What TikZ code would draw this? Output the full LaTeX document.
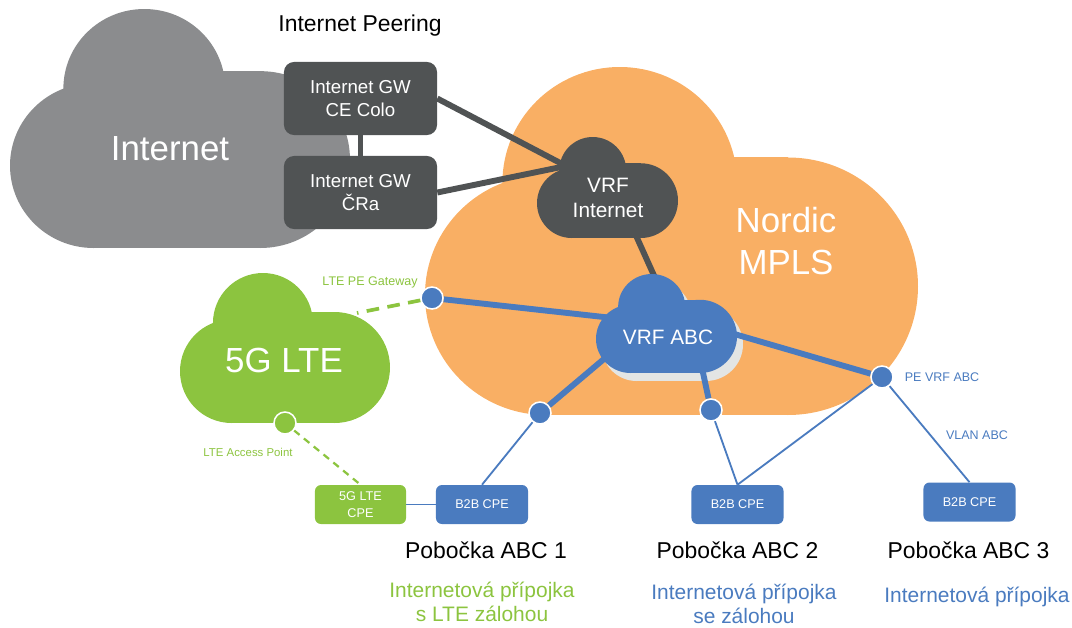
\documentclass[tikz,border=0pt]{standalone}
\usepackage{fontspec}
\setmainfont{Liberation Sans}
\usetikzlibrary{positioning}

\definecolor{inetgrey}{HTML}{8B8C8E}
\definecolor{gwdark}{HTML}{505354}
\definecolor{mplsorange}{HTML}{F9AF64}
\definecolor{vrfblue}{HTML}{4A7BBF}
\definecolor{ltegreen}{HTML}{8CC43F}
\definecolor{cloudshade}{HTML}{E3E5E4}

\pgfdeclarelayer{bg}
\pgfdeclarelayer{links}
\pgfsetlayers{bg,links,main}

% cloud: left x, top y, width, height, colour
\newcommand{\netcloud}[5]{%
	\begin{scope}[shift={(#1,#2)},xscale=#3,yscale=#4]
		\fill[#5] (0.246,0.655) ellipse [x radius=0.246, y radius=0.345];
		\fill[#5] (0.395,0.333) ellipse [x radius=0.238, y radius=0.333];
		\fill[#5] (0.736,0.630) ellipse [x radius=0.264, y radius=0.370];
		\fill[#5] (0.246,0.40) rectangle (0.736,1);
		\fill[#5] (0.395,0.26) rectangle (0.736,1);
	\end{scope}}

\begin{document}
\begin{tikzpicture}[x=0.025cm, y=-0.025cm,
		gwbox/.style={fill=gwdark, rounded corners=0.25cm, text=white, align=center,
			minimum width=3.825cm, minimum height=1.825cm, inner sep=0,
			font=\fontsize{13.3}{16.3}\selectfont},
		cpebox/.style={fill=vrfblue, rounded corners=0.15cm, text=white, align=center,
			minimum width=2.3cm, minimum height=0.975cm, inner sep=0,
			font=\fontsize{9}{12}\selectfont},
		pedot/.style={circle, fill=vrfblue, draw=white, line width=1.1pt,
			minimum size=0.55cm, inner sep=0},
		big/.style={text=white, align=center, inner sep=0, font=\fontsize{24.8}{29.8}\selectfont},
		vrf/.style={text=white, align=center, inner sep=0, font=\fontsize{14.8}{17.7}\selectfont},
		small/.style={inner sep=0, font=\fontsize{8.9}{10}\selectfont},
		branch/.style={inner sep=0, anchor=base, font=\fontsize{16.3}{19}\selectfont},
		uplink/.style={inner sep=0, align=center, font=\fontsize{14.9}{17.4}\selectfont},
		trunk/.style={line width=4.2pt},
		drop/.style={draw=vrfblue, line width=1.3pt},
		ltedash/.style={draw=ltegreen, line width=2.6pt, dash pattern=on 9pt off 6pt},
		ltedashthin/.style={draw=ltegreen, line width=1.6pt, dash pattern=on 5pt off 4pt}]

	\useasboundingbox (0,0) rectangle (1072,627);

	\begin{pgfonlayer}{bg}
		\netcloud{10}{9}{340}{239}{inetgrey}
		\netcloud{425}{67}{493}{348}{mplsorange}
		\netcloud{180}{273}{210}{150}{ltegreen}
		\netcloud{602}{282}{141}{99}{cloudshade}
	\end{pgfonlayer}
	\netcloud{537}{137}{141}{101}{gwdark}
	\netcloud{596}{274}{141}{99}{vrfblue}

	\coordinate (vrfinet-w) at (566,166);
	\coordinate (vrfinet-s) at (620,200);
	\coordinate (vrfabc-n) at (665,300);
	\coordinate (vrfabc-w) at (640,321);
	\coordinate (vrfabc-sw) at (630,337);
	\coordinate (vrfabc-s) at (696,340);
	\coordinate (vrfabc-e) at (700,324);
	\coordinate (ltecloud-ne) at (357,313);

	\node[inner sep=0, anchor=base, font=\fontsize{16.3}{19}\selectfont] (peering) at (360,31) {Internet Peering};
	\node[big] (inet) at (170,149) {Internet};
	\node[big] (mpls) at (786,241) {Nordic\\MPLS};
	\node[big] (lte) at (284,360) {5G LTE};
	\node[vrf] (vrfinet) at (608,198) {VRF\\Internet};
	\node[vrf] (vrfabc) at (668,337) {VRF ABC};

	\node[gwbox] (gwcolo) at (360.5,98.5) {Internet GW\\CE Colo};
	\node[gwbox] (gwcra) at (360.5,192.5) {Internet GW\\ČRa};

	\node[pedot] (ltegw) at (432,298) {};
	\node[pedot] (br1) at (540,413) {};
	\node[pedot] (br2) at (711,410) {};
	\node[pedot] (pe) at (882,377) {};
	\node[pedot, fill=ltegreen] (lteap) at (285,423) {};

	\node[small, text=ltegreen] (ltegwlbl) at (370,282) {LTE PE Gateway};
	\node[small, text=ltegreen, font=\fontsize{8.1}{10}\selectfont] (lteaplbl) at (248,452) {LTE Access Point};
	\node[small, text=vrfblue, right=0.27cm of pe] (pelbl) {PE VRF ABC};
	\node[small, text=vrfblue] (vlan) at (977,435) {VLAN ABC};

	\node[cpebox, fill=ltegreen, minimum width=2.275cm] (ltecpe) at (360.5,504.5) {5G LTE\\CPE};
	\foreach \n/\x/\y in {1/482/504.5, 2/737.5/504.5, 3/969.5/502}
		\node[cpebox] (cpe\n) at (\x,\y) {B2B CPE};

	\foreach \n/\x in {1/486, 2/737.5, 3/968.5}
		\node[branch] (branch\n) at (\x,558) {Pobočka ABC \n};

	\node[uplink, text=ltegreen] (uplink1) at (482,602) {Internetová přípojka\\s LTE zálohou};
	\node[uplink, text=vrfblue] (uplink2) at (744,604) {Internetová přípojka\\se zálohou};
	\node[uplink, text=vrfblue, anchor=base] (uplink3) at (977,602) {Internetová přípojka};

	\begin{pgfonlayer}{links}
		\draw[trunk, gwdark] (gwcolo) -- (gwcra);
		\draw[trunk, gwdark] (gwcolo.east) -- (vrfinet-w);
		\draw[trunk, gwdark] (gwcra.east) -- (vrfinet-w);
		\draw[trunk, gwdark] (vrfinet-s) -- (vrfabc-n);
		\draw[trunk, vrfblue] (ltegw) -- (vrfabc-w);
		\draw[trunk, vrfblue] (br1) -- (vrfabc-sw);
		\draw[trunk, vrfblue] (br2) -- (vrfabc-s);
		\draw[trunk, vrfblue] (pe) -- (vrfabc-e);
		\draw[drop] (br1) -- (cpe1.north);
		\draw[drop] (br2) -- (cpe2.north);
		\draw[drop] (pe) -- (cpe2.north);
		\draw[drop] (pe) -- (cpe3.north);
		\draw[drop] (ltecpe) -- (cpe1);
		\draw[ltedash] (ltegw) -- (ltecloud-ne);
		\draw[ltedashthin] (lteap) -- (ltecpe.north);
	\end{pgfonlayer}
\end{tikzpicture}
\end{document}
